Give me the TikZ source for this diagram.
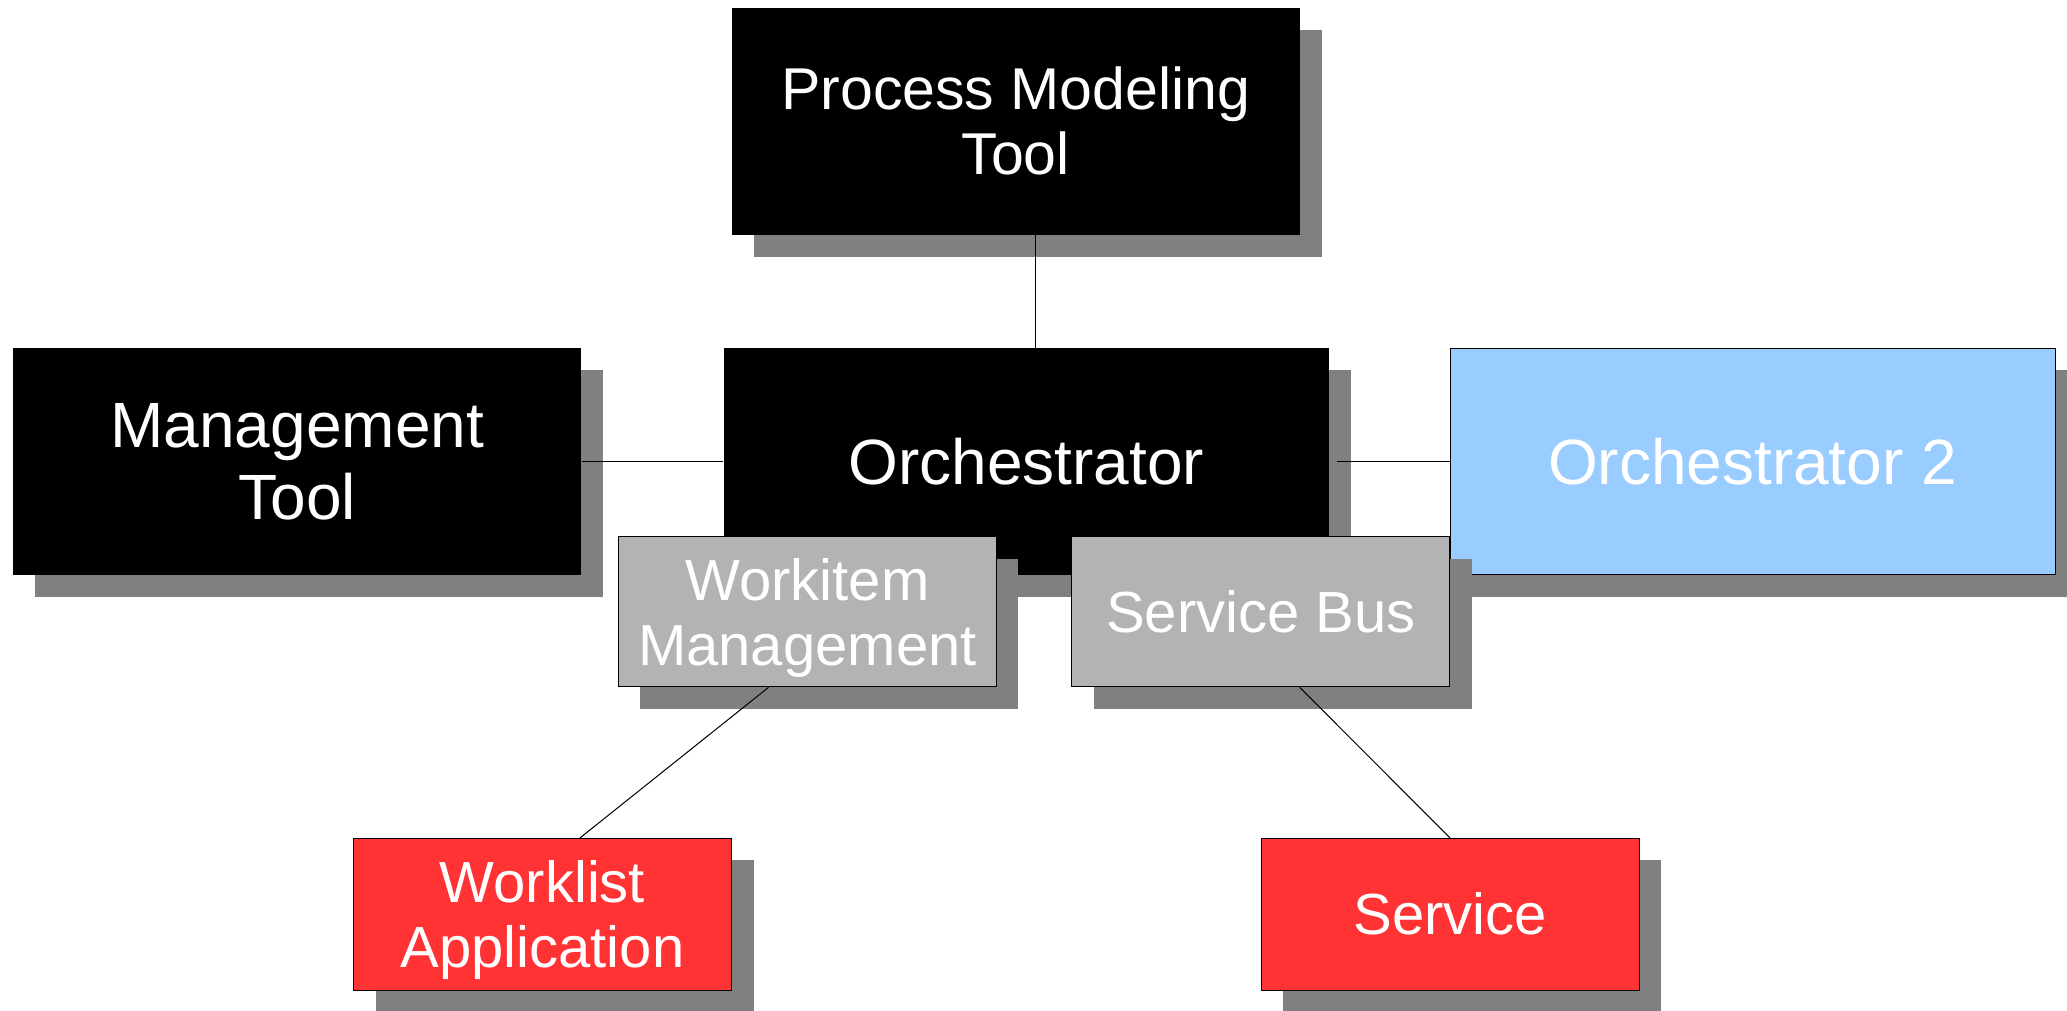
\documentclass[tikz,border=0pt]{standalone}
\usepackage{fontspec}
\setmainfont{Liberation Sans}
\usetikzlibrary{shadows}
\definecolor{shadowc}{HTML}{808080}
\definecolor{boxgrey}{HTML}{B3B3B3}
\definecolor{boxblue}{HTML}{99CCFF}
\definecolor{boxred}{HTML}{FF3333}
\tikzset{
  box/.style={rectangle, inner sep=0pt, align=center, text=white, line width=1pt,
    drop shadow={shadow xshift=22pt, shadow yshift=-22pt, fill=shadowc, opacity=1}},
  bigbox/.style={box, minimum width=#1, minimum height=226.7pt,
    font=\fontsize{64}{72}\selectfont},
  smallbox/.style={box, minimum width=378pt, minimum height=#1,
    font=\fontsize{58}{65}\selectfont},
  conn/.style={draw=black, line width=1pt}
}
\begin{document}
\begin{tikzpicture}[x=1pt,y=-1pt]
\useasboundingbox (0,0) rectangle (2067,1010);
% main boxes
\node[bigbox=568pt, fill=black, font=\fontsize{59}{65}\selectfont] (pmt) at (1015.7,121.3) {Process Modeling\\Tool};
\node[bigbox=568pt, fill=black] (mt) at (297.3,461.4) {Management\\Tool};
\node[bigbox=605pt, fill=black] (orch) at (1026.2,461.4) {Orchestrator};
\node[bigbox=605pt, fill=boxblue, draw=black] (orch2) at (1752.5,461.4) {Orchestrator 2};
\node[smallbox=151.6pt, fill=boxred, draw=black, text depth=0pt] (wl) at (542.5,914.2) {Worklist\\Application};
\node[smallbox=151.6pt, fill=boxred, draw=black] (svc) at (1450,914.2) {Service};
% overlapping boxes
\node[smallbox=150.3pt, fill=boxgrey, draw=black, text depth=0pt] (wm) at (807.4,611.7) {Workitem\\Management};
\node[smallbox=150.3pt, fill=boxgrey, draw=black] (sb) at (1260.9,611.7) {Service Bus};
% connector anchors
\coordinate (c1) at (1035,0);
\coordinate (c2) at (768.5,0);
\coordinate (c3) at (580,0);
\coordinate (c4) at (1299.7,0);
% connectors
\draw[conn] (pmt.south -| c1) -- (orch.north -| c1);
\draw[conn] (mt.east) -- (orch.west);
\draw[conn] ([xshift=8pt]orch.east) -- (orch2.west);
\draw[conn] (wm.south -| c2) -- (wl.north -| c3);
\draw[conn] (sb.south -| c4) -- (svc.north);
\end{tikzpicture}
\end{document}
